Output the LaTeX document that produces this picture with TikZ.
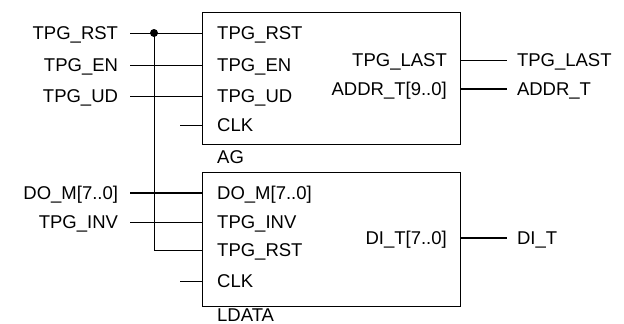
\documentclass[tikz,border=0pt]{standalone}
\usepackage{fontspec}
\setmainfont{Liberation Sans}
\tikzset{
  sig/.style={inner sep=0pt, text height=13pt, text depth=0pt, font=\fontsize{18.5}{20}\selectfont},
  extin/.style={sig, anchor=east, outer xsep=12pt},
  extout/.style={sig, anchor=west, outer xsep=10pt},
  pin/.style={sig, anchor=west},
  pout/.style={sig, anchor=east},
  block/.style={draw, line width=0.8pt, inner sep=0pt, outer sep=0pt, anchor=north west,
                minimum width=258pt},
  wire/.style={line width=0.8pt},
  bus/.style={line width=2.6pt},
}
\begin{document}
\begin{tikzpicture}[x=1pt, y=-1pt]
    \useasboundingbox (0,0) rectangle (624,324);

    % Blocks
    \node[block, minimum height=132pt] (ag) at (202,12) {};
    \node[block, minimum height=134pt] (ld) at (202,172) {};
    \node[sig, anchor=west] (agname) at (217,157) {AG};
    \node[sig, anchor=west] (ldname) at (217,314.5) {LDATA};

    % AG ports
    \node[pin] (arst) at (217,33) {TPG\_RST};
    \node[pin] (aen) at (217,65) {TPG\_EN};
    \node[pin] (aud) at (217,96) {TPG\_UD};
    \node[pin] (aclk) at (217,125) {CLK};
    \node[pout] (alast) at (447,60) {TPG\_LAST};
    \node[pout] (aaddr) at (447,89) {ADDR\_T[9..0]};

    % LDATA ports
    \node[pin] (ldo) at (217,193) {DO\_M[7..0]};
    \node[pin] (linv) at (217,222) {TPG\_INV};
    \node[pin] (lrst) at (217,250) {TPG\_RST};
    \node[pin] (lclk) at (217,281) {CLK};
    \node[pout] (ldi) at (447,238) {DI\_T[7..0]};

    % Outside signals
    \node[extin] (xrst) at (130,33) {TPG\_RST};
    \node[extin] (xen) at (130,65) {TPG\_EN};
    \node[extin] (xud) at (130,96) {TPG\_UD};
    \node[extin] (xdo) at (130,193) {DO\_M[7..0]};
    \node[extin] (xinv) at (130,222) {TPG\_INV};
    \node[extout] (xlast) at (507,60) {TPG\_LAST};
    \node[extout] (xaddr) at (507,89) {ADDR\_T};
    \node[extout] (xdi) at (507,238) {DI\_T};

    % Wires
    \coordinate (tap) at (154,33);
    \draw[wire] (xrst.east) -- (ag.west |- arst);
    \draw[wire] (xen.east) -- (ag.west |- aen);
    \draw[wire] (xud.east) -- (ag.west |- aud);
    \draw[wire] (ag.west |- aclk) -- ++(-22,0);
    \draw[bus] (xdo.east) -- (ld.west |- ldo);
    \draw[wire] (xinv.east) -- (ld.west |- linv);
    \draw[wire] (tap) |- (ld.west |- lrst);
    \draw[wire] (ld.west |- lclk) -- ++(-22,0);
    \fill (tap) circle (4pt);
    \draw[wire] (ag.east |- alast) -- (xlast.west);
    \draw[bus] (ag.east |- aaddr) -- (xaddr.west);
    \draw[bus] (ld.east |- ldi) -- (xdi.west);
\end{tikzpicture}
\end{document}
